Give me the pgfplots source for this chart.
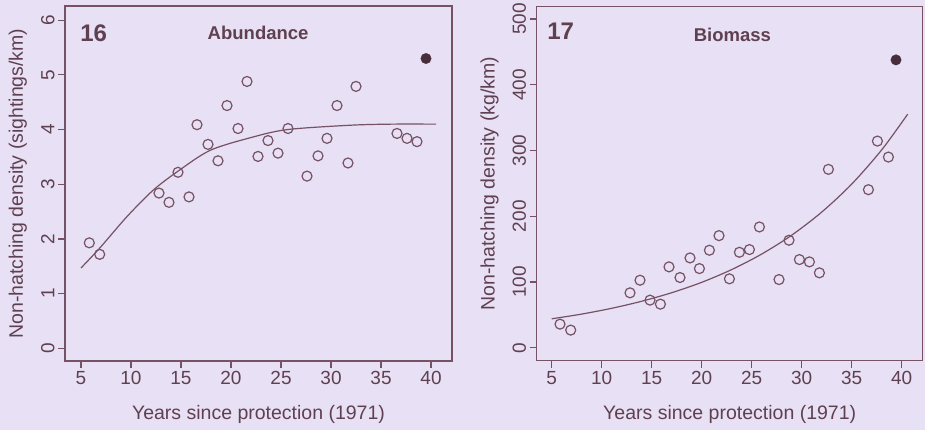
\documentclass[border=0pt]{standalone}
\usepackage{pgfplots}
\pgfplotsset{compat=1.18}
\usepackage{fontspec}
\setmainfont{Liberation Sans}
\definecolor{bgc}{RGB}{232,224,244}
\definecolor{fgc}{RGB}{118,82,100}
\definecolor{txc}{RGB}{95,64,80}
\definecolor{dotc}{RGB}{72,46,60}
\pgfplotsset{
  myax/.style={
    scale only axis,
    axis line style={fgc, line width=1.1pt},
    every tick/.style={fgc, line width=1.1pt},
    tick align=outside,
    major tick length=7pt,
    xtick pos=bottom, ytick pos=left,
    xtick={5,10,...,40},
    /pgf/number format/assume math mode=true,
    tick label style={font=\fontsize{19}{22}\selectfont, text=txc},
    yticklabel style={rotate=90, anchor=south},
    every axis x label/.style={at={(axis description cs:0.5,-0.152)}, anchor=center, font=\fontsize{19.5}{22}\selectfont, text=txc},
    every axis y label/.style={at={(axis description cs:-0.122,0.5)}, rotate=90, anchor=center, font=\fontsize{19.5}{22}\selectfont, text=txc},
    xlabel={Years since protection (1971)},
  },
}
\begin{document}
\begin{tikzpicture}[x=1pt,y=1pt]
\path[use as bounding box, fill=bgc] (0,0) rectangle (925,430);
% Left panel: Abundance
\begin{axis}[myax,
  at={(65pt,69pt)}, anchor=south west,
  width=387pt, height=355pt,
  xmin=3.4, xmax=42.1, ymin=-0.23, ymax=6.26,
  ytick={0,1,...,6},
  ylabel={Non-hatching density (sightings/km)},
]
\addplot[fgc, line width=1.2pt, smooth, tension=0.5] coordinates {
(5,1.47) (6.9,1.84) (9.6,2.41) (12.2,2.89) (14.7,3.24) (17.9,3.62) (21.9,3.85) (25.6,4.00) (31.9,4.08) (36,4.10) (40.5,4.10)
};
\addplot[only marks, mark=o, mark size=5pt, fgc, mark options={line width=1.2pt}] coordinates {
(5.83,1.93) (6.87,1.72) (12.8,2.84) (13.8,2.67) (14.7,3.22) (15.8,2.77) (16.6,4.09) (17.7,3.73) (18.7,3.43) (19.6,4.44)
(20.7,4.02) (21.6,4.88) (22.7,3.51) (23.7,3.80) (24.7,3.57) (25.7,4.02) (27.6,3.15) (28.7,3.52) (29.6,3.84) (30.6,4.44)
(31.7,3.39) (32.5,4.79) (36.6,3.93) (37.6,3.84) (38.6,3.78)
};
\addplot[only marks, mark=*, mark size=5.2pt, dotc] coordinates {(39.5,5.30)};
\node[anchor=west, inner sep=0pt, font=\fontsize{24}{26}\selectfont\bfseries, text=txc] at (rel axis cs:0.039,0.9225) {16};
\node[anchor=center, inner sep=0pt, font=\fontsize{18.5}{22}\selectfont\bfseries, text=txc] at (rel axis cs:0.499,0.924) {Abundance};
\end{axis}
% Right panel: Biomass
\begin{axis}[myax,
  at={(536.7pt,69.3pt)}, anchor=south west,
  width=386pt, height=354pt,
  xmin=3.5, xmax=42.1, ymin=-19.7, ymax=518.7,
  ytick={0,100,...,500},
  ylabel={Non-hatching density (kg/km)},
]
\addplot[fgc, line width=1.2pt, smooth, tension=0.5] coordinates {
(5,44.0) (8,51.2) (11,60.0) (14,70.7) (17,83.7) (20,99.5) (23,118.9) (26,142.5) (29,171.2) (32,206.3) (35,248.9) (38,301.0) (40.6,355.3)
};
\addplot[only marks, mark=o, mark size=5pt, fgc, mark options={line width=1.2pt}] coordinates {
(5.83,35.9) (6.9,26.8) (12.83,83.5) (13.83,102.7) (14.83,72.4) (15.87,66.3) (16.73,123) (17.83,106.8) (18.83,136.6) (19.77,120.4)
(20.77,148.3) (21.73,170.5) (22.77,104.8) (23.77,145.2) (24.77,149.3) (25.77,183.7) (27.73,103.7) (28.73,163.5) (29.77,134.1) (30.77,130.6)
(31.77,113.9) (32.67,271.3) (36.67,240.4) (37.57,314.3) (38.67,290)
};
\addplot[only marks, mark=*, mark size=5.2pt, dotc] coordinates {(39.43,437.8)};
\node[anchor=west, inner sep=0pt, font=\fontsize{24}{26}\selectfont\bfseries, text=txc] at (rel axis cs:0.027,0.932) {17};
\node[anchor=center, inner sep=0pt, font=\fontsize{18.5}{22}\selectfont\bfseries, text=txc] at (rel axis cs:0.507,0.92) {Biomass};
\end{axis}
\end{tikzpicture}
\end{document}
